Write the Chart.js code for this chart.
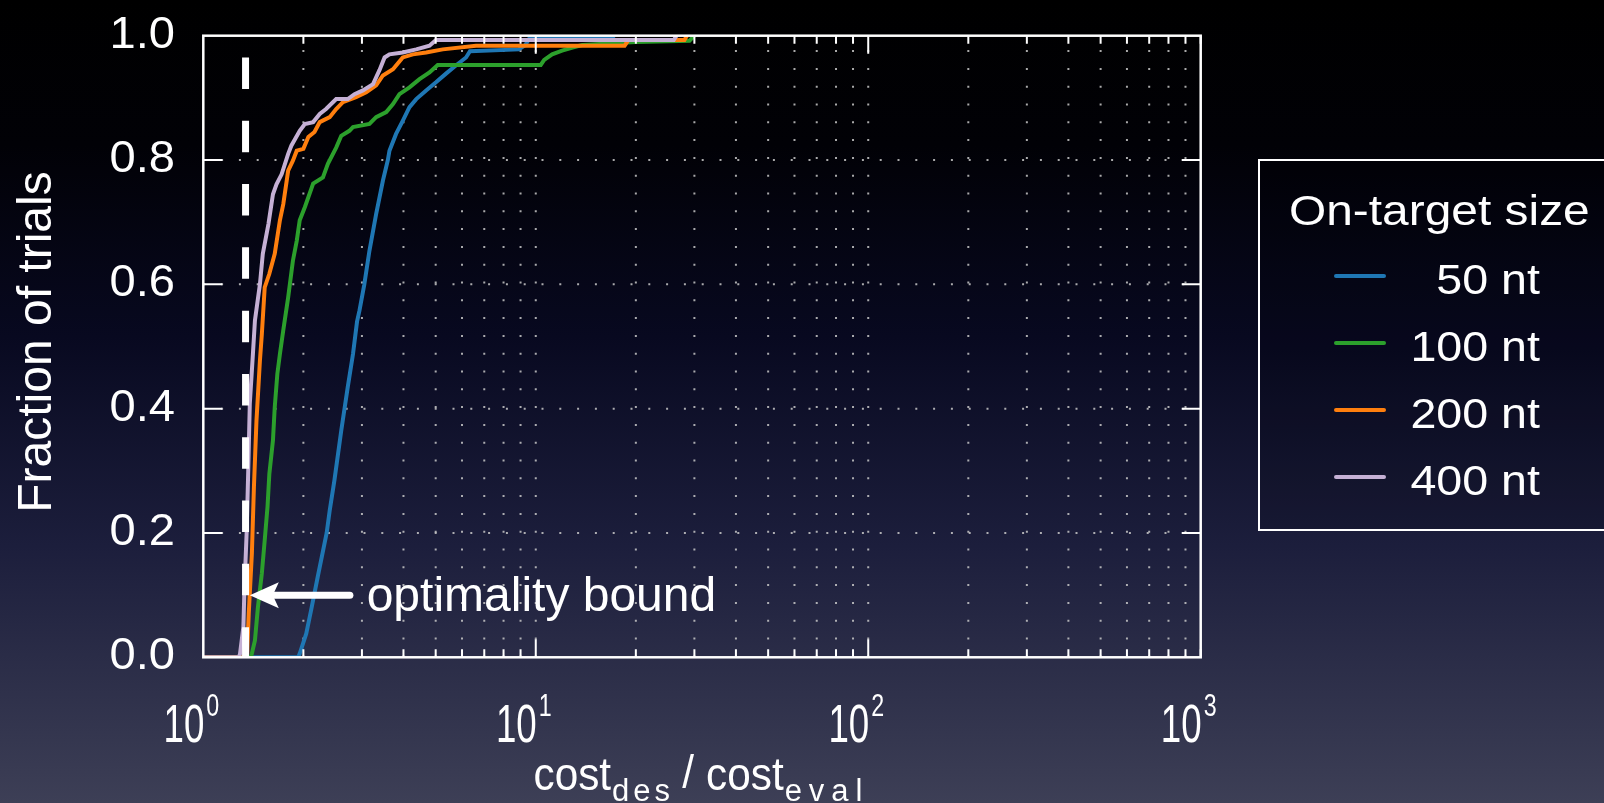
<!DOCTYPE html>
<html>
<head>
<meta charset="utf-8">
<title>Fraction of trials vs cost ratio</title>
<script src="https://cdn.jsdelivr.net/npm/chart.js@4.4.1/dist/chart.umd.min.js"></script>
<style>
  html, body { margin: 0; padding: 0; overflow: hidden; }
  body {
    width: 1604px;
    height: 803px;
    background: linear-gradient(to bottom, #000000 0%, #010106 18%, #080920 42%, #1c1e3c 68%, #3d3f56 100%);
  }
  #chart { display: block; }
</style>
</head>
<body>
<canvas id="chart" width="1604" height="803"></canvas>
<script>
const seriesLabels = ['50 nt', '100 nt', '200 nt', '400 nt'];
const seriesColors = ['#1f77b4', '#2ca02c', '#ff7f0e', '#c5b0d5'];

const cost50 = [1, 1.93, 1.95, 2.04, 2.11, 2.21, 2.35, 2.40, 2.48, 2.60, 2.72, 2.82, 2.90, 2.95, 3.05, 3.16, 3.31, 3.47, 3.59, 3.63, 3.80, 3.98, 4.17, 4.37, 4.68, 5.01, 5.37, 5.75, 6.17, 6.34, 8.9, 9.3, 9.6, 17, 17.2];
const frac50 = [0, 0, 0.006, 0.038, 0.076, 0.13, 0.20, 0.236, 0.285, 0.365, 0.435, 0.488, 0.54, 0.558, 0.60, 0.654, 0.713, 0.767, 0.80, 0.815, 0.842, 0.863, 0.885, 0.898, 0.912, 0.925, 0.939, 0.952, 0.965, 0.975, 0.978, 0.985, 0.997, 0.997, 1.0];

const cost100 = [1, 1.39, 1.40, 1.43, 1.46, 1.50, 1.53, 1.56, 1.58, 1.62, 1.64, 1.67, 1.70, 1.74, 1.80, 1.86, 1.91, 1.95, 2.02, 2.14, 2.29, 2.37, 2.51, 2.60, 2.75, 2.82, 3.16, 3.31, 3.55, 3.72, 3.89, 4.17, 4.47, 4.79, 5.07, 10.35, 10.6, 11.2, 12.0, 12.9, 13.8, 17, 20, 29, 30];
const frac100 = [0, 0, 0.006, 0.027, 0.081, 0.135, 0.188, 0.242, 0.295, 0.349, 0.402, 0.456, 0.488, 0.526, 0.579, 0.638, 0.670, 0.703, 0.724, 0.762, 0.772, 0.794, 0.820, 0.839, 0.847, 0.853, 0.858, 0.869, 0.877, 0.890, 0.906, 0.917, 0.930, 0.941, 0.953, 0.953, 0.961, 0.970, 0.976, 0.981, 0.985, 0.988, 0.990, 0.992, 1.0];

const cost200 = [1, 1.34, 1.355, 1.37, 1.40, 1.42, 1.445, 1.48, 1.50, 1.53, 1.58, 1.64, 1.70, 1.74, 1.80, 1.86, 1.91, 2.00, 2.07, 2.16, 2.24, 2.40, 2.51, 2.63, 2.88, 3.09, 3.31, 3.47, 3.72, 3.98, 4.27, 4.68, 5.25, 6.61, 18.5, 19, 28, 28.5];
const frac200 = [0, 0, 0.006, 0.07, 0.167, 0.274, 0.38, 0.477, 0.52, 0.595, 0.617, 0.649, 0.703, 0.729, 0.783, 0.799, 0.815, 0.818, 0.837, 0.845, 0.861, 0.869, 0.882, 0.893, 0.901, 0.909, 0.920, 0.936, 0.946, 0.965, 0.970, 0.973, 0.978, 0.984, 0.984, 0.993, 0.993, 1.0];

const cost400 = [1, 1.28, 1.29, 1.32, 1.33, 1.35, 1.365, 1.38, 1.41, 1.43, 1.48, 1.51, 1.57, 1.62, 1.66, 1.72, 1.80, 1.84, 1.95, 2.02, 2.14, 2.24, 2.34, 2.51, 2.72, 2.85, 3.02, 3.24, 3.39, 3.51, 3.63, 3.98, 4.37, 4.79, 5.01, 26, 26.5];
const frac400 = [0, 0, 0.006, 0.049, 0.113, 0.2, 0.3, 0.408, 0.488, 0.542, 0.60, 0.649, 0.697, 0.745, 0.761, 0.777, 0.81, 0.823, 0.847, 0.858, 0.861, 0.874, 0.882, 0.898, 0.898, 0.906, 0.912, 0.922, 0.945, 0.965, 0.970, 0.973, 0.978, 0.984, 0.993, 0.993, 1.0];

// Optimality bound annotation
const boundX = [1.34, 1.34];
const boundY = [0.965, 0];
const arrowX = [2.76, 1.38];
const arrowY = 0.10;
const noteText = 'optimality bound';
const noteX = 3.1;

// Axes
const yTicks = [0, 0.2, 0.4, 0.6, 0.8, 1.0];
const yTickLabels = ['0.0', '0.2', '0.4', '0.6', '0.8', '1.0'];
const xDecades = [1, 10, 100, 1000];
const xDecadeExp = ['0', '1', '2', '3'];
const legendTitle = 'On-target size';

const FONT = '"Liberation Sans", Arial, Helvetica, sans-serif';

function toPoints(xs, ys) {
  return xs.map((x, i) => ({ x: x, y: ys[i] }));
}

// Text with horizontal stretch factor sx
function drawText(ctx, str, x, y, size, sx, align) {
  ctx.save();
  ctx.font = size + 'px ' + FONT;
  ctx.textBaseline = 'alphabetic';
  ctx.textAlign = 'left';
  const w = ctx.measureText(str).width * sx;
  let x0 = x;
  if (align === 'right') x0 = x - w;
  else if (align === 'center') x0 = x - w / 2;
  ctx.translate(x0, y);
  ctx.scale(sx, 1);
  ctx.fillStyle = '#ffffff';
  ctx.fillText(str, 0, 0);
  ctx.restore();
  return w;
}

// Spaced-out characters (used for subscripts)
function spacedWidth(ctx, str, size, gap) {
  ctx.save();
  ctx.font = size + 'px ' + FONT;
  let w = 0;
  for (const ch of str) w += ctx.measureText(ch).width + gap;
  ctx.restore();
  return w - gap;
}
function drawSpaced(ctx, str, x, y, size, gap) {
  let cx = x;
  for (const ch of str) {
    cx += drawText(ctx, ch, cx, y, size, 1, 'left') + gap;
  }
}

function minorValues() {
  const vals = [];
  for (let d = 0; d < xDecades.length - 1; d++) {
    for (let m = 2; m <= 10; m++) vals.push(xDecades[d] * m);
  }
  return vals;
}

const gridPlugin = {
  id: 'dotGrid',
  beforeDatasetsDraw(chart) {
    const { ctx, chartArea: a, scales: { x, y } } = chart;
    ctx.save();
    ctx.strokeStyle = 'rgba(200,200,200,0.85)';
    ctx.lineWidth = 2;
    ctx.setLineDash([2, 15.8]);
    minorValues().forEach(v => {
      const px = x.getPixelForValue(v);
      if (px >= a.right - 1) return;
      ctx.beginPath();
      ctx.moveTo(px, a.bottom);
      ctx.lineTo(px, a.top);
      ctx.stroke();
    });
    yTicks.slice(1, -1).forEach(v => {
      const py = y.getPixelForValue(v);
      ctx.beginPath();
      ctx.moveTo(a.left, py);
      ctx.lineTo(a.right, py);
      ctx.stroke();
    });
    ctx.restore();
  }
};

const framePlugin = {
  id: 'frame',
  afterDatasetsDraw(chart) {
    const { ctx, chartArea: a, scales: { x, y } } = chart;
    ctx.save();
    ctx.strokeStyle = '#ffffff';
    ctx.lineWidth = 2;
    // inward ticks on all four sides
    minorValues().forEach(v => {
      const px = x.getPixelForValue(v);
      const len = (v === 10 || v === 100) ? 18 : 8;
      ctx.beginPath();
      ctx.moveTo(px, a.bottom);
      ctx.lineTo(px, a.bottom - len);
      ctx.moveTo(px, a.top);
      ctx.lineTo(px, a.top + len);
      ctx.stroke();
    });
    yTicks.slice(1, -1).forEach(v => {
      const py = y.getPixelForValue(v);
      ctx.beginPath();
      ctx.moveTo(a.left, py);
      ctx.lineTo(a.left + 19, py);
      ctx.moveTo(a.right, py);
      ctx.lineTo(a.right - 19, py);
      ctx.stroke();
    });
    ctx.lineWidth = 2.5;
    ctx.strokeRect(a.left, a.top, a.right - a.left, a.bottom - a.top);

    // arrow to the optimality bound
    const x0 = x.getPixelForValue(arrowX[0]);
    const x1 = x.getPixelForValue(arrowX[1]);
    const ay = y.getPixelForValue(arrowY);
    ctx.lineWidth = 7;
    ctx.lineCap = 'round';
    ctx.beginPath();
    ctx.moveTo(x0, ay);
    ctx.lineTo(x1 + 20, ay);
    ctx.stroke();
    ctx.fillStyle = '#ffffff';
    ctx.beginPath();
    ctx.moveTo(x1, ay);
    ctx.lineTo(x1 + 29, ay - 13);
    ctx.lineTo(x1 + 23, ay);
    ctx.lineTo(x1 + 29, ay + 13);
    ctx.closePath();
    ctx.fill();
    ctx.restore();

    drawText(ctx, noteText, x.getPixelForValue(noteX), ay + 16, 48, 1, 'left');
  }
};

const labelsPlugin = {
  id: 'axisText',
  afterDraw(chart) {
    const { ctx, chartArea: a, scales: { x, y } } = chart;

    // y tick labels
    yTicks.forEach((v, i) => {
      drawText(ctx, yTickLabels[i], 175, y.getPixelForValue(v) + 12, 44, 1.07, 'right');
    });

    // y axis title
    ctx.save();
    ctx.translate(51, 342);
    ctx.rotate(-Math.PI / 2);
    drawText(ctx, 'Fraction of trials', 0, 0, 48, 1, 'center');
    ctx.restore();

    // x tick labels 10^n
    xDecades.forEach((v, i) => {
      const px = x.getPixelForValue(v);
      drawText(ctx, '10', px + 1, 742, 54, 0.68, 'right');
      drawText(ctx, xDecadeExp[i], px + 3, 716, 31, 0.75, 'left');
    });

    // x axis title: cost_des / cost_eval
    const subSize = 31, subGap = 4;
    ctx.save();
    ctx.font = '47px ' + FONT;
    const wCost = ctx.measureText('cost').width * 0.9;
    ctx.restore();
    const wDes = spacedWidth(ctx, 'des', subSize, subGap);
    const wEval = spacedWidth(ctx, 'eval', subSize, subGap + 3);
    const wSlash = 36;
    const total = wCost + wDes + wSlash + wCost + wEval;
    let cx = 697 - total / 2;
    drawText(ctx, 'cost', cx, 790, 47, 0.9, 'left');
    cx += wCost + 1;
    drawSpaced(ctx, 'des', cx, 801, subSize, subGap);
    cx += wDes;
    drawText(ctx, '/', cx + wSlash / 2, 788, 47, 0.9, 'center');
    cx += wSlash;
    drawText(ctx, 'cost', cx, 790, 47, 0.9, 'left');
    cx += wCost + 1;
    drawSpaced(ctx, 'eval', cx, 801, subSize, subGap + 3);

    // legend box
    ctx.save();
    ctx.fillStyle = 'rgba(0,0,0,0.12)';
    ctx.fillRect(1259, 160, 400, 370);
    ctx.strokeStyle = '#ffffff';
    ctx.lineWidth = 2;
    ctx.strokeRect(1259, 160, 400, 370);
    ctx.restore();
    drawText(ctx, legendTitle, 1289, 225, 42, 1.14, 'left');
    const rowY = [276, 343, 410, 477];
    seriesLabels.forEach((lab, i) => {
      ctx.save();
      ctx.strokeStyle = seriesColors[i];
      ctx.lineWidth = 4;
      ctx.lineCap = 'round';
      ctx.beginPath();
      ctx.moveTo(1336, rowY[i]);
      ctx.lineTo(1384, rowY[i]);
      ctx.stroke();
      ctx.restore();
      drawText(ctx, lab, 1540, rowY[i] + 18, 42, 1.11, 'right');
    });
  }
};

const curves = [
  [cost50, frac50],
  [cost100, frac100],
  [cost200, frac200],
  [cost400, frac400]
];

const datasets = curves.map((c, i) => ({
  label: seriesLabels[i],
  data: toPoints(c[0], c[1]),
  borderColor: seriesColors[i],
  borderWidth: 4,
  pointRadius: 0,
  tension: 0,
  fill: false,
  order: 4 - i
}));

datasets.push({
  label: 'optimality bound',
  data: toPoints(boundX, boundY),
  borderColor: '#ffffff',
  borderWidth: 7,
  borderDash: [31.5, 31.8],
  borderCapStyle: 'butt',
  pointRadius: 0,
  fill: false,
  order: 0
});

new Chart(document.getElementById('chart'), {
  type: 'line',
  data: { datasets: datasets },
  options: {
    responsive: false,
    animation: false,
    devicePixelRatio: 1,
    layout: { padding: { left: 203.3, right: 403.3, top: 35.7, bottom: 145.7 } },
    scales: {
      x: { type: 'logarithmic', min: 1, max: 1000, display: false },
      y: { type: 'linear', min: 0, max: 1, display: false }
    },
    plugins: {
      legend: { display: false },
      tooltip: { enabled: false }
    }
  },
  plugins: [gridPlugin, framePlugin, labelsPlugin]
});
</script>
</body>
</html>
